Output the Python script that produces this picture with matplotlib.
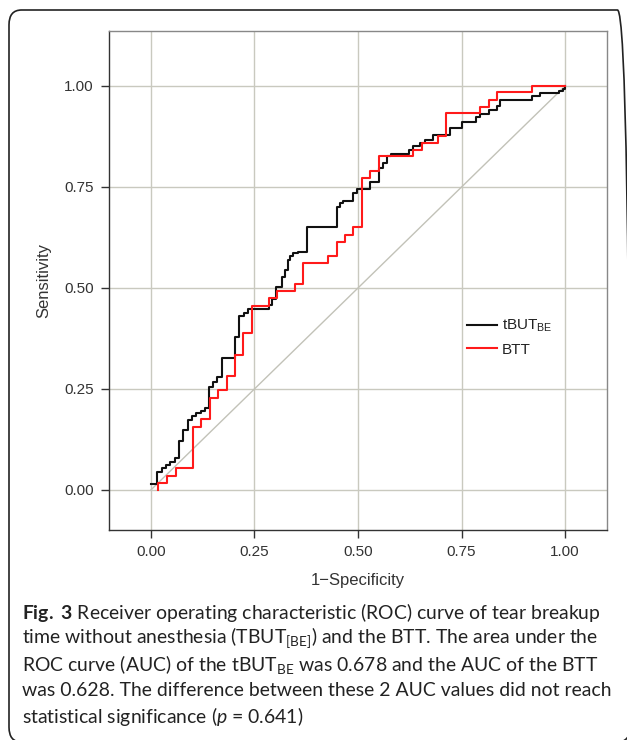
import matplotlib
matplotlib.use("Agg")
import matplotlib.pyplot as plt
from matplotlib.patches import FancyBboxPatch
from matplotlib.lines import Line2D

# ---- data ----
tbut_fpr = [0.0, 0.015, 0.026, 0.036, 0.047, 0.058, 0.068, 0.078, 0.089, 0.100, 0.110, 0.121,
            0.130, 0.140, 0.140, 0.150, 0.159, 0.171, 0.203, 0.212, 0.225, 0.235, 0.284, 0.293,
            0.301, 0.302, 0.316, 0.324, 0.330, 0.336, 0.344, 0.356, 0.376, 0.449, 0.457, 0.464,
            0.489, 0.497, 0.529, 0.551, 0.560, 0.571, 0.580, 0.622, 0.632, 0.650, 0.662, 0.682,
            0.722, 0.750, 0.785, 0.795, 0.817, 0.835, 0.843, 0.920, 0.940, 0.986, 0.996, 1.0]
tbut_tpr = [0.015, 0.045, 0.054, 0.062, 0.070, 0.078, 0.121, 0.149, 0.173, 0.183, 0.190, 0.196,
            0.202, 0.227, 0.254, 0.268, 0.279, 0.326, 0.378, 0.431, 0.437, 0.447, 0.458, 0.472,
            0.483, 0.502, 0.526, 0.545, 0.569, 0.578, 0.586, 0.590, 0.652, 0.701, 0.710, 0.715,
            0.734, 0.744, 0.762, 0.796, 0.809, 0.827, 0.832, 0.842, 0.851, 0.859, 0.867, 0.878,
            0.896, 0.912, 0.922, 0.931, 0.940, 0.950, 0.966, 0.974, 0.983, 0.988, 0.993, 1.0]

btt_fpr = [0.018, 0.018, 0.039, 0.060, 0.102, 0.120, 0.142, 0.163, 0.183, 0.203, 0.223, 0.243,
           0.286, 0.304, 0.348, 0.368, 0.428, 0.449, 0.469, 0.489, 0.509, 0.529, 0.551, 0.632,
           0.654, 0.692, 0.712, 0.795, 0.815, 0.836, 0.919, 1.0]
btt_tpr = [0.0, 0.017, 0.035, 0.054, 0.157, 0.175, 0.227, 0.248, 0.282, 0.334, 0.388, 0.455,
           0.474, 0.493, 0.510, 0.563, 0.579, 0.615, 0.631, 0.652, 0.771, 0.790, 0.826, 0.841,
           0.860, 0.877, 0.932, 0.948, 0.966, 0.985, 1.0, 1.0]

ticks = [0.0, 0.25, 0.5, 0.75, 1.0]
tick_labels = ["0.00", "0.25", "0.50", "0.75", "1.00"]
series_labels = [r"tBUT$_{\mathrm{BE}}$", "BTT"]

caption_lines = [
    r"$\mathbf{Fig.}$ $\mathbf{3}$ Receiver operating characteristic (ROC) curve of tear breakup",
    r"time without anesthesia (TBUT$_{\mathrm{[BE]}}$) and the BTT. The area under the",
    r"ROC curve (AUC) of the tBUT$_{\mathrm{BE}}$ was 0.678 and the AUC of the BTT",
    r"was 0.628. The difference between these 2 AUC values did not reach",
    r"statistical significance ($\mathit{p}$ = 0.641)",
]

# ---- style ----
cap_font = ["Lato", "DejaVu Sans"]
plt.rcParams["font.family"] = ["Liberation Sans", "DejaVu Sans"]
plt.rcParams["mathtext.fontset"] = "custom"
plt.rcParams["mathtext.rm"] = "Liberation Sans"
plt.rcParams["mathtext.bf"] = "Lato:bold"
plt.rcParams["mathtext.it"] = "Lato:italic"

W, H = 627, 740
fig = plt.figure(figsize=(W / 100, H / 100), dpi=100)

# rounded frame around figure
frame = FancyBboxPatch((9 / W, 1 - 742 / H), (630 - 9) / W, (742 - 10) / H,
                       boxstyle="round,pad=0,rounding_size=0.02", transform=fig.transFigure,
                       fill=False, edgecolor="#222222", linewidth=1.2, clip_on=False)
fig.patches.append(frame)

ax = fig.add_axes([109 / W, 1 - 530 / H, 498 / W, 499 / H])
ax.set_xlim(-0.101, 1.101)
ax.set_ylim(-0.099, 1.136)

grid_c = "#c9c9bf"
ax.set_xticks(ticks)
ax.set_yticks(ticks)
ax.set_xticklabels(tick_labels)
ax.set_yticklabels(tick_labels)
ax.grid(True, color=grid_c, linewidth=1.0)
ax.set_axisbelow(True)

ax.plot([0, 1], [0, 1], color="#c2c2b8", linewidth=1.0, zorder=2)
ax.plot(tbut_fpr, tbut_tpr, drawstyle="steps-post", color="#111111", linewidth=1.5, zorder=3)
ax.plot(btt_fpr, btt_tpr, drawstyle="steps-post", color="#ff1a1a", linewidth=1.5, zorder=4)

for s in ["left", "bottom"]:
    ax.spines[s].set_color("#333333")
    ax.spines[s].set_linewidth(1.0)
for s in ["top", "right"]:
    ax.spines[s].set_color("#888888")
    ax.spines[s].set_linewidth(1.0)

ax.tick_params(axis="both", which="both", direction="out", length=6, width=1.0,
               color="#333333", labelcolor="#333333", labelsize=11, pad=5,
               top=False, right=False)
ax.set_xlabel("1\u2212Specificity", fontsize=12, color="#333333", labelpad=10)
ax.set_ylabel("Sensitivity", fontsize=12, color="#333333", labelpad=9)

handles = [Line2D([], [], color="#111111", lw=1.5), Line2D([], [], color="#ff1a1a", lw=1.5)]
ax.legend(handles, series_labels, loc="center left", bbox_to_anchor=(0.763, 0.378),
          bbox_transform=ax.transData, frameon=False, fontsize=11, borderpad=0,
          borderaxespad=0, handlelength=1.95, handletextpad=0.35, labelspacing=0.55,
          labelcolor="#222222")

# caption
fig.canvas.draw()
renderer = fig.canvas.get_renderer()
plt.rcParams["mathtext.rm"] = cap_font[0]
probe = fig.text(0, 0, caption_lines[0], fontsize=14, family=cap_font)
wpx = probe.get_window_extent(renderer).width
probe.remove()
cap_size = 14 * (603 - 22) / wpx
ys = [612, 638, 665, 691, 717]
for line, y in zip(caption_lines, ys):
    fig.text(22 / W, 1 - y / H, line, fontsize=cap_size, family=cap_font,
             ha="left", va="center", color="#222222")

fig.savefig("out.png", dpi=100)
